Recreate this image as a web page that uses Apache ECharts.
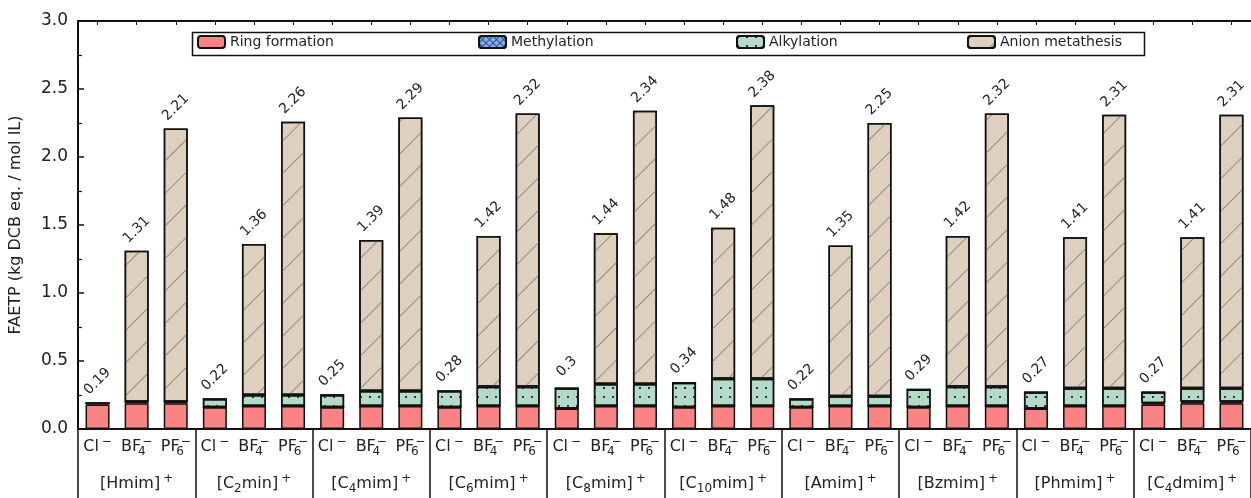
<!DOCTYPE html>
<html>
<head>
<meta charset="utf-8">
<script src="https://cdn.jsdelivr.net/npm/echarts@6/dist/echarts.min.js"></script>
<style>
  html, body { margin: 0; padding: 0; background: #fff; }
  #chart { width: 1251px; height: 498px; }
</style>
</head>
<body>
<div id="chart"></div>
<script>
// cations (groups) and anions (bars inside a group)
var cations = ['[Hmim]⁺', '[C₂min]⁺', '[C₄mim]⁺', '[C₆mim]⁺', '[C₈mim]⁺',
               '[C₁₀mim]⁺', '[Amim]⁺', '[Bzmim]⁺', '[Phmim]⁺', '[C₄dmim]⁺'];
var anions = ['Cl⁻', 'BF₄⁻', 'PF₆⁻'];

// one value per bar: Cl, BF4, PF6 for each cation in turn
var ringFormation = [
    0.18, 0.19, 0.19,  0.16, 0.17, 0.17,  0.16, 0.17, 0.17,  0.16, 0.17, 0.17,
    0.15, 0.17, 0.17,  0.16, 0.17, 0.17,  0.16, 0.17, 0.17,  0.16, 0.17, 0.17,
    0.15, 0.17, 0.17,  0.18, 0.19, 0.19
];
var methylation = [
    0.01, 0.01, 0.01,  0, 0, 0,  0, 0, 0,  0, 0, 0,
    0, 0, 0,  0, 0, 0,  0, 0, 0,  0, 0, 0,
    0, 0, 0,  0.01, 0.01, 0.01
];
var alkylation = [
    0, 0, 0,  0.06, 0.08, 0.08,  0.09, 0.11, 0.11,  0.12, 0.14, 0.14,
    0.15, 0.16, 0.16,  0.18, 0.20, 0.20,  0.06, 0.07, 0.07,  0.13, 0.14, 0.14,
    0.12, 0.13, 0.13,  0.08, 0.10, 0.10
];
var anionMetathesis = [
    0, 1.11, 2.01,  0, 1.11, 2.01,  0, 1.11, 2.01,  0, 1.11, 2.01,
    0, 1.11, 2.01,  0, 1.11, 2.01,  0, 1.11, 2.01,  0, 1.11, 2.01,
    0, 1.11, 2.01,  0, 1.11, 2.01
];
var totals = [
    0.19, 1.31, 2.21,  0.22, 1.36, 2.26,  0.25, 1.39, 2.29,  0.28, 1.42, 2.32,
    0.3, 1.44, 2.34,  0.34, 1.48, 2.38,  0.22, 1.35, 2.25,  0.29, 1.42, 2.32,
    0.27, 1.41, 2.31,  0.27, 1.41, 2.31
];
var yTicks = { min: 0, max: 3, interval: 0.5 };

var font = 'DejaVu Sans';
var ink = '#111';

var barLabels = [];
cations.forEach(function () {
    anions.forEach(function (a) { barLabels.push(a); });
});

// turn unicode sub/superscripts into rich text pieces,
// a subscript followed by a superscript is stacked (BF4-)
var subs = '₀₁₂₃₄₅₆₇₈₉';
function toRich(s) {
    var out = '';
    for (var i = 0; i < s.length; i++) {
        var c = s.charAt(i);
        var k = subs.indexOf(c);
        var next = s.charAt(i + 1);
        if (k >= 0) out += (next === '⁻' || next === '⁺' ? '{subs|' : '{sub|') + k + '}';
        else if (c === '⁺') out += '{sup|+}';
        else if (c === '⁻') out += (subs.indexOf(s.charAt(i - 1)) >= 0 ? '{supt|−}' : '{sup|−}');
        else out += '{n|' + c + '}';
    }
    return out;
}
var richStyles = {
    n: { fontFamily: font, fontSize: 16, lineHeight: 22, color: '#222' },
    sub: { fontFamily: font, fontSize: 12, lineHeight: 12, verticalAlign: 'bottom', color: '#222' },
    subs: { fontFamily: font, fontSize: 12, lineHeight: 12, verticalAlign: 'bottom', color: '#222', width: 1, align: 'left' },
    sup: { fontFamily: font, fontSize: 12, lineHeight: 12, verticalAlign: 'top', color: '#222', padding: [0, 0, 0, 3] },
    supt: { fontFamily: font, fontSize: 12, lineHeight: 12, verticalAlign: 'top', color: '#222', padding: [0, 0, 0, 0] }
};

function barSeries(name, data, color, decal, withLabel) {
    var s = {
        name: name,
        type: 'bar',
        stack: 'total',
        barWidth: 24,
        data: data,
        itemStyle: { color: color, borderColor: ink, borderWidth: 1.5, decal: decal }
    };
    if (withLabel) {
        s.label = {
            show: true,
            position: 'top',
            distance: 21,
            rotate: 45,
            align: 'center',
            verticalAlign: 'middle',
            fontFamily: font,
            fontSize: 14,
            color: '#222',
            formatter: function (p) { return String(totals[p.dataIndex]); }
        };
    }
    return s;
}

function legendAt(name, x) {
    return {
        data: [name],
        left: x,
        top: 35,
        padding: 0,
        itemWidth: 27,
        itemHeight: 12,
        textStyle: { fontFamily: font, fontSize: 14, color: '#222' }
    };
}

var chart = echarts.init(document.getElementById('chart'), null, { renderer: 'canvas' });

var option = {
    animation: false,
    backgroundColor: '#fff',
    textStyle: { fontFamily: font },
    grid: { left: 75, right: -11, top: 21, bottom: 69 },
    legend: [
        legendAt('Ring formation', 197),
        legendAt('Methylation', 478),
        legendAt('Alkylation', 736),
        legendAt('Anion metathesis', 967)
    ],
    graphic: [{
        type: 'rect',
        left: 190,
        top: 30,
        shape: { width: 952, height: 23 },
        style: { fill: null, stroke: ink, lineWidth: 1.5 },
        z: 10
    }],
    xAxis: [
        {
            type: 'category',
            data: barLabels,
            position: 'bottom',
            axisLine: { lineStyle: { color: ink, width: 2 } },
            axisTick: { show: true, inside: true, alignWithLabel: true, length: 3, lineStyle: { color: ink } },
            axisLabel: { interval: 0, margin: 7, formatter: toRich, rich: richStyles }
        },
        {
            type: 'category',
            data: cations,
            position: 'bottom',
            axisLine: { show: false },
            axisTick: { show: true, inside: false, length: 72, interval: 0, lineStyle: { color: ink, width: 1.5 } },
            axisLabel: { interval: 0, margin: 44, formatter: toRich, rich: richStyles }
        },
        {
            type: 'category',
            data: barLabels,
            position: 'top',
            axisLine: { lineStyle: { color: ink, width: 2 } },
            axisTick: { show: true, inside: true, alignWithLabel: true, length: 4, lineStyle: { color: ink } },
            axisLabel: { show: false }
        }
    ],
    yAxis: {
        type: 'value',
        min: yTicks.min,
        max: yTicks.max,
        interval: yTicks.interval,
        name: 'FAETP (kg DCB eq. / mol IL)',
        nameLocation: 'middle',
        nameGap: 54,
        nameTextStyle: { fontFamily: font, fontSize: 16, color: '#222' },
        axisLine: { show: true, lineStyle: { color: ink, width: 2 } },
        axisTick: { show: true, inside: true, length: 6, lineStyle: { color: ink, width: 1.5 } },
        minorTick: { show: true, splitNumber: 2, length: 4, lineStyle: { color: ink, width: 1.2 } },
        splitLine: { show: false },
        axisLabel: {
            margin: 10,
            fontFamily: font,
            fontSize: 17,
            color: '#222',
            formatter: function (v) { return v.toFixed(1); }
        }
    },
    series: [
        barSeries('Ring formation', ringFormation, '#fa8383', null, false),
        barSeries('Methylation', methylation, '#86aeea', {
            symbol: 'path://M0,0L1,0L10,9L10,10L9,10L0,1ZM10,0L10,1L1,10L0,10L0,9L9,0Z',
            symbolSize: 1, color: '#2f4f8f',
            dashArrayX: [[7, 0]], dashArrayY: [7, 0]
        }, false),
        barSeries('Alkylation', alkylation, '#b3dbc8', {
            symbol: 'rect', symbolSize: 1, color: '#333',
            dashArrayX: [1.5, 7], dashArrayY: [1.5, 7]
        }, false),
        barSeries('Anion metathesis', anionMetathesis, '#ddd0bf', {
            symbol: 'rect', symbolSize: 1, color: '#958c7e',
            dashArrayX: [[1, 0]], dashArrayY: [1, 22], rotation: -Math.PI / 4
        }, true)
    ]
};

chart.setOption(option);
</script>
</body>
</html>
